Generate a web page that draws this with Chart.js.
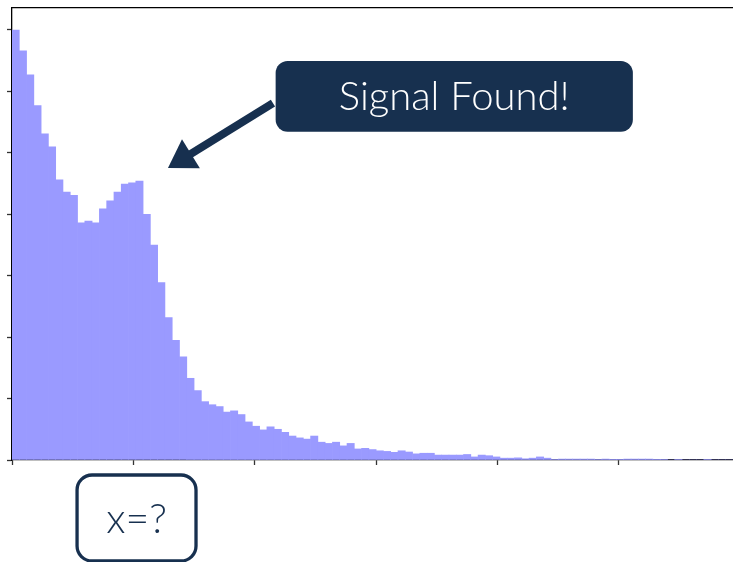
<!DOCTYPE html>
<html>
<head>
    <title>Signal Found</title>
    <script src="https://cdn.jsdelivr.net/npm/chart.js"></script>
    <style>
        body { margin: 0; background: #fff; }
        canvas { display: block; }
    </style>
</head>
<body>
    <canvas id="histChart" width="733" height="562"></canvas>
    <script>
        // histogram bins (width in x units), heights
        const binWidth = 0.06;
        const counts = [
            7.00, 6.66, 6.27, 5.77, 5.31, 5.10, 4.56, 4.36, 4.31, 3.86,
            3.89, 3.86, 4.09, 4.22, 4.36, 4.49, 4.51, 4.54, 4.00, 3.50,
            2.89, 2.32, 1.95, 1.68, 1.33, 1.13, 0.95, 0.90, 0.87, 0.78,
            0.80, 0.74, 0.62, 0.55, 0.49, 0.54, 0.50, 0.45, 0.39, 0.36,
            0.34, 0.39, 0.29, 0.27, 0.29, 0.23, 0.27, 0.18, 0.19, 0.17,
            0.15, 0.14, 0.125, 0.15, 0.13, 0.10, 0.11, 0.11, 0.08, 0.08,
            0.08, 0.08, 0.09, 0.05, 0.08, 0.07, 0.05, 0.03, 0.03, 0.035,
            0.02, 0.03, 0.05, 0.03, 0.01, 0.015, 0.015, 0.015, 0.015, 0.015,
            0.01, 0.015, 0.005, 0.005, 0.015, 0.015, 0.015, 0.015, 0.005, 0.01,
            0, 0.01, 0, 0, 0, 0.01, 0, 0, 0
        ];
        const xTicks = [0, 1, 2, 3, 4, 5];
        const yTicks = [0, 1, 2, 3, 4, 5, 6, 7];
        const xMax = 5.94;
        const yMax = 7.358;

        const navy = '#17304f';
        const barColor = '#9a9aff';

        // annotations, placed in data units
        const signalBox = { x0: 2.172, x1: 5.115, y0: 6.495, y1: 5.345, text: 'Signal Found!' };
        const arrow = { from: [2.15, 5.81], to: [1.285, 4.753] };
        const guessBox = { x0: 0.536, x1: 1.516, y0: -0.244, y1: -1.644, text: 'x=?' };

        const points = counts.map((c, i) => ({ x: binWidth * (i + 0.5), y: c }));

        function roundRect(ctx, x, y, w, h, r) {
            ctx.beginPath();
            ctx.moveTo(x + r, y);
            ctx.lineTo(x + w - r, y);
            ctx.arcTo(x + w, y, x + w, y + r, r);
            ctx.lineTo(x + w, y + h - r);
            ctx.arcTo(x + w, y + h, x + w - r, y + h, r);
            ctx.lineTo(x + r, y + h);
            ctx.arcTo(x, y + h, x, y + h - r, r);
            ctx.lineTo(x, y + r);
            ctx.arcTo(x, y, x + r, y, r);
            ctx.closePath();
        }

        const annotations = {
            id: 'annotations',
            afterDraw(chart) {
                const ctx = chart.ctx;
                const xs = chart.scales.x, ys = chart.scales.y;
                const px = v => xs.getPixelForValue(v);
                const py = v => ys.getPixelForValue(v);
                ctx.save();

                // arrow
                const x1 = px(arrow.from[0]), y1 = py(arrow.from[1]);
                const x2 = px(arrow.to[0]), y2 = py(arrow.to[1]);
                const len = Math.hypot(x2 - x1, y2 - y1);
                const ux = (x2 - x1) / len, uy = (y2 - y1) / len;
                const headLen = 27, headHalf = 17;
                const bx = x2 - ux * headLen, by = y2 - uy * headLen;
                ctx.strokeStyle = navy;
                ctx.lineWidth = 8;
                ctx.beginPath();
                ctx.moveTo(x1, y1);
                ctx.lineTo(bx + ux * 2, by + uy * 2);
                ctx.stroke();
                ctx.fillStyle = navy;
                ctx.beginPath();
                ctx.moveTo(x2, y2);
                ctx.lineTo(bx - uy * headHalf, by + ux * headHalf);
                ctx.lineTo(bx + uy * headHalf, by - ux * headHalf);
                ctx.closePath();
                ctx.fill();

                // signal box
                let sx = px(signalBox.x0), sy = py(signalBox.y0);
                let sw = px(signalBox.x1) - sx, sh = py(signalBox.y1) - sy;
                roundRect(ctx, sx, sy, sw, sh, 12);
                ctx.fillStyle = navy;
                ctx.fill();
                ctx.fillStyle = '#ffffff';
                ctx.font = '300 40px Lato';
                ctx.textAlign = 'center';
                ctx.textBaseline = 'middle';
                ctx.fillText(signalBox.text, sx + sw / 2, sy + sh / 2 + 1);

                // x=? box
                const gx = px(guessBox.x0), gy = py(guessBox.y0);
                const gw = px(guessBox.x1) - gx, gh = py(guessBox.y1) - gy;
                roundRect(ctx, gx, gy, gw, gh, 15);
                ctx.fillStyle = '#ffffff';
                ctx.fill();
                ctx.strokeStyle = navy;
                ctx.lineWidth = 3.3;
                ctx.stroke();
                ctx.fillStyle = navy;
                ctx.font = '300 41px Lato';
                ctx.fillText(guessBox.text, gx + gw / 2, gy + gh / 2 + 2);

                ctx.restore();
            }
        };

        const ctx = document.getElementById('histChart').getContext('2d');
        const histChart = new Chart(ctx, {
            type: 'bar',
            data: {
                datasets: [{
                    data: points,
                    backgroundColor: barColor,
                    borderWidth: 0,
                    barPercentage: 1,
                    categoryPercentage: 1
                }]
            },
            options: {
                responsive: false,
                animation: false,
                events: [],
                layout: { padding: { left: 7, top: 8, right: 0, bottom: 97 } },
                plugins: { legend: { display: false }, tooltip: { enabled: false } },
                scales: {
                    x: {
                        type: 'linear',
                        min: 0,
                        max: xMax,
                        offset: false,
                        afterBuildTicks: s => { s.ticks = xTicks.map(v => ({ value: v })); },
                        ticks: { display: false },
                        grid: { offset: false, drawOnChartArea: false, drawTicks: true, tickLength: 5, tickWidth: 1.3, tickColor: '#333' },
                        border: { display: true, color: '#000', width: 1.3 }
                    },
                    xTop: {
                        type: 'linear',
                        position: 'top',
                        min: 0,
                        max: xMax,
                        offset: false,
                        ticks: { display: false },
                        grid: { offset: false, drawOnChartArea: false, drawTicks: false },
                        border: { display: true, color: '#000', width: 1.3 }
                    },
                    y: {
                        min: 0,
                        max: yMax,
                        afterBuildTicks: s => { s.ticks = yTicks.map(v => ({ value: v })); },
                        ticks: { display: false },
                        grid: { drawOnChartArea: false, drawTicks: true, tickLength: 5, tickWidth: 1.3, tickColor: '#333' },
                        border: { display: true, color: '#000', width: 1.3 }
                    }
                }
            },
            plugins: [annotations]
        });
    </script>
</body>
</html>
